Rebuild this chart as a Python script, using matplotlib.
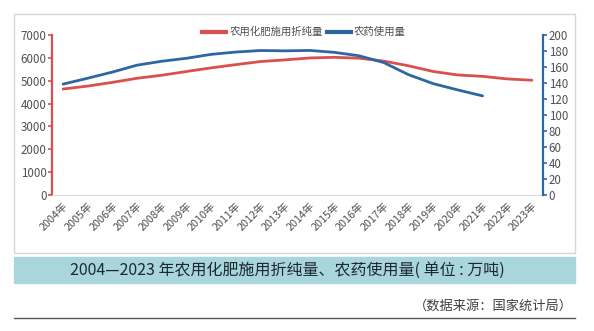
import numpy as np
import matplotlib
matplotlib.use("Agg")
import matplotlib.pyplot as plt
from matplotlib.patches import Rectangle
from matplotlib.lines import Line2D

plt.rcParams['font.family'] = ['Noto Sans CJK SC', 'DejaVu Sans']

# 数据（万吨）
years = list(range(2004, 2024))
year_labels = [f"{y}年" for y in years]
fertilizer = [4637, 4766, 4928, 5108, 5239, 5404, 5562, 5704, 5839, 5912,
              5996, 6023, 5984, 5859, 5653, 5404, 5251, 5191, 5079, 5022]
pesticide = [138.6, 146.0, 153.7, 162.3, 167.2, 170.9, 175.8, 178.7, 180.6, 180.2,
             180.7, 178.3, 174.0, 165.5, 150.4, 139.2, 131.3, 123.9]

red = '#d9504e'
blue = '#2c67a2'
txt = '#505050'

W, H = 594, 331
fig = plt.figure(figsize=(W / 100, H / 100), dpi=100)

def fx(px):
    return px / W

def fy(py):
    return 1 - py / H

# 外框
fig.patches.append(Rectangle((fx(14), fy(253)), fx(575) - fx(14), fy(14) - fy(253),
                             transform=fig.transFigure, fill=False,
                             edgecolor='#d6d6d6', linewidth=1))

ax = fig.add_axes([fx(52), fy(195), fx(543) - fx(52), fy(35) - fy(195)])
ax2 = ax.twinx()

x = np.arange(len(years))
ax.plot(x, fertilizer, color=red, lw=2.0, solid_capstyle='round', zorder=3)
ax2.plot(x[:len(pesticide)], pesticide, color=blue, lw=2.0, solid_capstyle='round', zorder=3)

ax.set_xlim(-0.45, len(years) - 0.55)
ax.set_ylim(0, 7000)
ax.set_yticks(range(0, 7001, 1000))
ax2.set_ylim(0, 200)
ax2.set_yticks(range(0, 201, 20))

ax.set_xticks(x)
ax.set_xticklabels(year_labels, rotation=45, ha='right', va='top',
                   rotation_mode='anchor', fontsize=7.8, color=txt)
ax.tick_params(axis='x', length=0, pad=4)

for s in ['top', 'right']:
    ax.spines[s].set_visible(False)
for s in ['top', 'left', 'bottom']:
    ax2.spines[s].set_visible(False)
ax.spines['bottom'].set_color('#d9d9d9')
ax.spines['left'].set_color(red)
ax.spines['left'].set_linewidth(1.6)
ax2.spines['right'].set_color(blue)
ax2.spines['right'].set_linewidth(1.6)

ax.tick_params(axis='y', colors=red, labelcolor=txt, length=3, width=1.2,
               labelsize=8.3, pad=1)
ax2.tick_params(axis='y', colors=blue, labelcolor=txt, length=3, width=1.2,
                labelsize=8.3, pad=1)

# 图例
handles = [Line2D([], [], color=red, lw=3), Line2D([], [], color=blue, lw=3)]
fig.legend(handles, ['农用化肥施用折纯量', '农药使用量'], loc='center',
           bbox_to_anchor=(fx(304), fy(32)), ncol=2, frameon=False,
           fontsize=7.5, handlelength=2.3, handletextpad=0.3, columnspacing=0.4,
           labelcolor=txt)

# 标题底色条
fig.patches.append(Rectangle((fx(14), fy(283)), fx(575) - fx(14), fy(257) - fy(283),
                             transform=fig.transFigure, color='#a9d5dc', zorder=0))
fig.text(fx(287), fy(270.5), '2004—2023 年农用化肥施用折纯量、农药使用量( 单位 : 万吨)',
         ha='center', va='center', fontsize=11.5, color='#1c2a30')

fig.text(fx(573), fy(306), '（数据来源：国家统计局）', ha='right', va='center',
         fontsize=9.5, color='#404040')
fig.add_artist(Line2D([fx(14), fx(575)], [fy(318), fy(318)], transform=fig.transFigure,
                      color='#555555', lw=1))

fig.savefig('out.png', dpi=100, facecolor='white')
